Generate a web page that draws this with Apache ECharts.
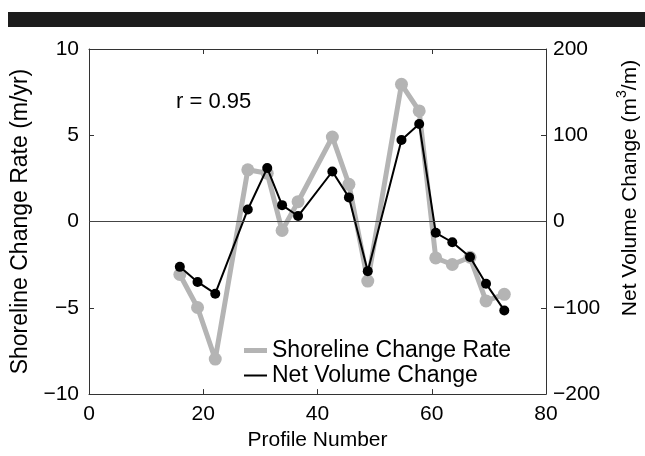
<!DOCTYPE html>
<html>
<head>
<meta charset="utf-8">
<script src="https://cdn.jsdelivr.net/npm/echarts@6/dist/echarts.min.js"></script>
<style>
html,body{margin:0;padding:0;background:#fff;}
#c{width:645px;height:456px;}
</style>
</head>
<body>
<div id="c"></div>
<script>
var profileNumbers = [15.9, 19.0, 22.1, 27.8, 31.2, 33.8, 36.6, 42.6, 45.5, 48.8, 54.7, 57.8, 60.7, 63.6, 66.7, 69.5, 72.7];
var shorelineRate = [-3.07, -4.98, -7.97, 3.0, 2.8, -0.52, 1.15, 4.9, 2.16, -3.45, 7.95, 6.41, -2.11, -2.49, -2.07, -4.6, -4.22];
var netVolume = [-52.5, -70, -83.6, 14, 62, 19, 6.4, 58, 28, -57.5, 94.6, 113, -13, -24, -41, -72, -103];
var xTicks = [0, 20, 40, 60, 80];
var leftTicks = [-10, -5, 0, 5, 10];
var rightTicks = [-200, -100, 0, 100, 200];

var FONT = 'Liberation Sans, Arial, Helvetica, sans-serif';
function minus(v){ return String(v).replace('-', '\u2212'); }
function pairs(xs, ys){ return xs.map(function(x,i){ return [x, ys[i]]; }); }

var axisLineStyle = {color:'#333', width:1};
var chart = echarts.init(document.getElementById('c'), null, {renderer:'canvas'});
chart.setOption({
  animation:false,
  backgroundColor:'#fff',
  grid:{left:89, right:99, top:49, bottom:59, containLabel:false},
  xAxis:[{
    type:'value', min:xTicks[0], max:xTicks[xTicks.length-1], interval:20,
    position:'bottom',
    name:'Profile Number', nameLocation:'middle', nameGap:33,
    nameTextStyle:{fontFamily:FONT, fontSize:21, color:'#000'},
    axisLine:{show:true, onZero:false, lineStyle:axisLineStyle},
    axisTick:{show:true, inside:true, length:5, lineStyle:axisLineStyle},
    axisLabel:{fontFamily:FONT, fontSize:21, color:'#000', margin:10, formatter:minus},
    splitLine:{show:false}
  },{
    type:'value', min:xTicks[0], max:xTicks[xTicks.length-1], interval:20,
    position:'top',
    axisLine:{show:true, onZero:false, lineStyle:axisLineStyle},
    axisTick:{show:true, inside:true, length:5, lineStyle:axisLineStyle},
    axisLabel:{show:false},
    splitLine:{show:false}
  }],
  yAxis:[{
    type:'value', min:leftTicks[0], max:leftTicks[leftTicks.length-1], interval:5,
    position:'left',
    name:'Shoreline Change Rate (m/yr)', nameLocation:'middle', nameGap:55, nameRotate:90,
    nameTextStyle:{fontFamily:FONT, fontSize:23, color:'#000'},
    axisLine:{show:true, onZero:false, lineStyle:axisLineStyle},
    axisTick:{show:true, inside:true, length:5, lineStyle:axisLineStyle},
    axisLabel:{fontFamily:FONT, fontSize:21, color:'#000', margin:10, formatter:minus},
    splitLine:{show:false}
  },{
    type:'value', min:rightTicks[0], max:rightTicks[rightTicks.length-1], interval:100,
    position:'right',
    axisLine:{show:true, onZero:false, lineStyle:axisLineStyle},
    axisTick:{show:true, inside:true, length:5, lineStyle:axisLineStyle},
    axisLabel:{fontFamily:FONT, fontSize:21, color:'#000', margin:7, formatter:minus},
    splitLine:{show:false}
  }],
  legend:[{
    data:['Shoreline Change Rate'], left:239, top:334, orient:'vertical',
    icon:'rect', itemWidth:23, itemHeight:5, selectedMode:false,
    textStyle:{fontFamily:FONT, fontSize:23, color:'#000'}
  },{
    data:['Net Volume Change'], left:239, top:359, orient:'vertical',
    icon:'rect', itemWidth:23, itemHeight:2, selectedMode:false,
    textStyle:{fontFamily:FONT, fontSize:23, color:'#000'}
  }],
  graphic:[{
    type:'rect', left:8, top:12, shape:{width:637, height:15}, style:{fill:'#1c1c1c'}, silent:true
  },{
    type:'text', left:176, top:91, style:{text:'r = 0.95', font:'22px ' + FONT, fill:'#000'}
  },{
    type:'text', x:628, y:188, rotation:Math.PI/2,
    style:{
      text:'{n|Net Volume Change (m}{s|3}{n|/m)}',
      align:'center', verticalAlign:'middle',
      rich:{
        n:{fontFamily:FONT, fontSize:21, fill:'#000', lineHeight:25, verticalAlign:'bottom'},
        s:{fontFamily:FONT, fontSize:14, fill:'#000', lineHeight:25, verticalAlign:'top'}
      }
    }
  }],
  series:[{
    name:'Shoreline Change Rate', type:'line', xAxisIndex:0, yAxisIndex:0,
    data:pairs(profileNumbers, shorelineRate),
    symbol:'circle', symbolSize:13, showSymbol:true,
    itemStyle:{color:'#b4b4b4'}, lineStyle:{color:'#b4b4b4', width:5},
    z:2,
    markLine:{
      silent:true, symbol:'none', label:{show:false},
      lineStyle:{color:'#444', width:1, type:'solid'},
      data:[{yAxis:0}]
    }
  },{
    name:'Net Volume Change', type:'line', xAxisIndex:0, yAxisIndex:1,
    data:pairs(profileNumbers, netVolume),
    symbol:'circle', symbolSize:10, showSymbol:true,
    itemStyle:{color:'#000'}, lineStyle:{color:'#000', width:2},
    z:3
  }]
});
</script>
</body>
</html>
